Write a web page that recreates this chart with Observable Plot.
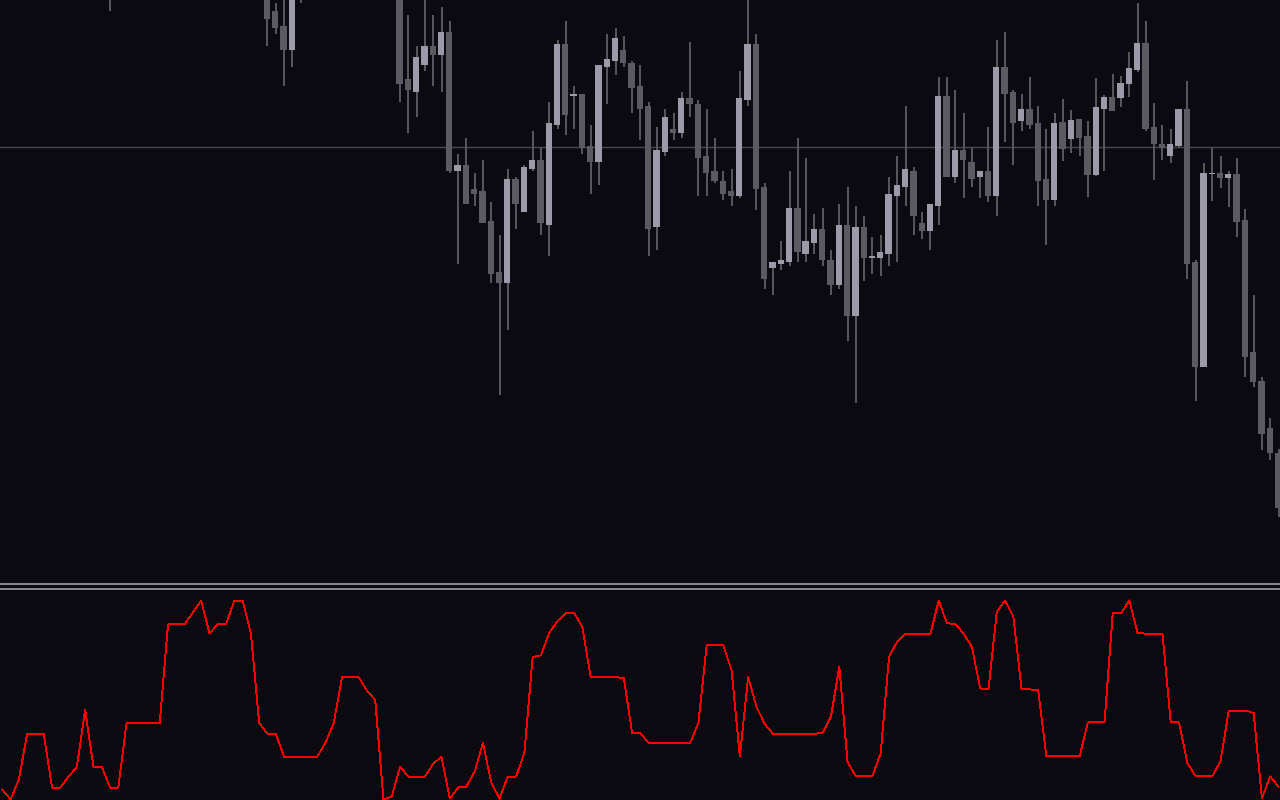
<!DOCTYPE html>
<html>
<head>
<meta charset="utf-8">
<script src="https://cdn.jsdelivr.net/npm/d3@7"></script>
<script src="https://cdn.jsdelivr.net/npm/@observablehq/plot@0.6"></script>
<style>
html, body { margin: 0; padding: 0; background: #0a0a10; }
#chart { width: 1280px; height: 800px; overflow: hidden; background: #0a0a10; }
#chart svg { display: block; max-width: none; }
.sep { height: 2px; background: #85858d; }
.gap { height: 3px; }
</style>
</head>
<body>
<div id="chart"></div>
<script>
// Bar positions (bar number from the left edge of the window) of the candles that show
const candleIndex = [13, 32, 33, 34, 35, 36,
  48, 49, 50, 51, 52, 53, 54, 55, 56, 57, 58, 59, 60, 61, 62, 63, 64, 65, 66, 67, 68, 69, 70, 71,
  72, 73, 74, 75, 76, 77, 78, 79, 80, 81, 82, 83, 84, 85, 86, 87, 88, 89, 90, 91, 92, 93, 94, 95,
  96, 97, 98, 99, 100, 101, 102, 103, 104, 105, 106, 107, 108, 109, 110, 111, 112, 113, 114, 115,
  116, 117, 118, 119, 120, 121, 122, 123, 124, 125, 126, 127, 128, 129, 130, 131, 132, 133, 134,
  135, 136, 137, 138, 139, 140, 141, 142, 143, 144, 145, 146, 147, 148, 149, 150, 151, 152, 153, 154];

// Prices (in points)
const open = [620, 615, 589, 574, 550, 620,
  610, 521, 508, 535, 554, 545, 568, 429, 435, 411, 409, 379, 328, 317, 421, 388, 431, 440, 375, 475, 556, 504, 506, 454,
  438, 533, 539, 550, 537, 514, 494, 373, 448, 471, 467, 502, 496, 444, 429, 419, 409, 404, 500, 556, 413, 332, 336, 338,
  392, 346, 357, 371, 340, 315, 375, 284, 373, 342, 342, 346, 404, 413, 429, 377, 369, 394, 504, 423,
  450, 438, 423, 429, 404, 533, 508, 479, 491, 477, 421, 400, 478, 461, 481, 464, 425, 491, 503,
  502, 516, 530, 557, 473, 456, 444, 454, 491, 338, 233, 426, 427, 422, 426, 380, 248, 219, 172, 147];

const high = [640, 625, 597, 605, 625, 640,
  620, 585, 554, 603, 585, 593, 579, 446, 462, 427, 440, 398, 365, 431, 423, 435, 469, 453, 498, 560, 579, 514, 506, 475,
  535, 566, 572, 564, 539, 535, 498, 473, 491, 487, 508, 558, 500, 491, 462, 429, 431, 529, 605, 566, 417, 338, 359, 429,
  462, 442, 386, 392, 350, 396, 413, 394, 384, 363, 365, 423, 444, 494, 433, 388, 396, 523, 523, 510,
  487, 452, 429, 473, 560, 568, 510, 506, 523, 494, 471, 487, 501, 490, 481, 479, 522, 505, 526,
  524, 548, 597, 579, 497, 475, 471, 491, 519, 340, 437, 452, 444, 429, 442, 391, 305, 223, 182, 151];

const low = [589, 554, 566, 514, 533, 597,
  498, 467, 483, 529, 514, 508, 427, 336, 396, 394, 377, 317, 205, 270, 371, 388, 429, 365, 344, 471, 465, 471, 446, 406,
  415, 496, 525, 533, 487, 460, 344, 350, 444, 460, 462, 483, 404, 404, 417, 400, 394, 402, 494, 390, 311, 305, 330, 334,
  338, 338, 346, 334, 305, 311, 259, 197, 319, 326, 324, 334, 338, 394, 365, 361, 350, 375, 423, 417,
  402, 413, 402, 398, 384, 458, 435, 469, 471, 394, 355, 394, 439, 447, 444, 403, 424, 429, 489,
  493, 503, 528, 469, 420, 440, 437, 452, 321, 199, 233, 399, 412, 393, 363, 223, 213, 150, 140, 83];

const close = [605, 581, 572, 550, 610, 610,
  516, 510, 543, 554, 545, 568, 429, 435, 396, 406, 377, 326, 317, 421, 396, 433, 440, 377, 477, 556, 485, 506, 452, 438,
  535, 541, 562, 537, 512, 491, 371, 450, 483, 467, 502, 496, 442, 427, 419, 406, 404, 502, 556, 411, 321, 338, 340, 392,
  348, 359, 371, 340, 315, 375, 284, 373, 342, 344, 348, 406, 415, 431, 384, 369, 396, 504, 423, 450,
  440, 421, 429, 404, 533, 506, 477, 491, 475, 419, 400, 477, 451, 480, 462, 425, 493, 503, 489,
  517, 532, 557, 471, 456, 452, 456, 491, 336, 233, 427, 427, 422, 426, 378, 243, 218, 166, 147, 92];

// Horizontal price level
const levelLine = [453];

// Oscillator (0-100), one value per bar, bars 0..154
const indicator = [
  5, 0, 10, 33, 33, 33, 6, 6, 11.5, 16.5,
  45, 16.5, 16.5, 6, 6, 38.5, 38.5, 38.5, 38.5, 38.5,
  88, 88, 88, 94, 100, 83.5, 88, 88, 100, 100,
  83.5, 38.5, 33, 33, 21.5, 21.5, 21.5, 21.5, 21.5, 28.5,
  38.5, 61.5, 61.5, 61.5, 54.7, 50, 0, 1.5, 16.5, 11.5,
  11.5, 11.5, 18, 21.5, 0.5, 6, 6.5, 14, 28.5, 8.5,
  0.5, 11.5, 11.5, 23.5, 71.5, 72.5, 83.7, 89.7, 93.7, 93.7,
  86.7, 61.5, 61.5, 61.5, 61.5, 61, 33.5, 33.5, 28.3, 28.3,
  28.3, 28.3, 28.3, 28.3, 38.5, 77.5, 77.5, 77.5, 65, 21.7,
  61.5, 46.7, 38, 33, 33, 33, 33, 33, 33, 33.5,
  41.7, 66.7, 18.7, 11.7, 11.7, 11.7, 23.3, 71.7, 79.5, 83.3,
  83.3, 83.3, 83.3, 100, 88.5, 88.3, 83.3, 76.7, 55.8, 55.3,
  94.2, 100, 92, 55.3, 55.3, 55, 21.7, 21.7, 21.7, 21.7,
  21.7, 38.7, 38.7, 38.7, 93.7, 93.7, 100, 83.7, 83.3, 83.3,
  83.3, 38.7, 38.7, 18.3, 11.7, 11.7, 11.7, 19.2, 44.7, 44.7,
  44.7, 43.5, 0.5, 11.7, 6.3];

(function () {
  const candles = candleIndex.map((i, k) => ({
    i, open: open[k], high: high[k], low: low[k], close: close[k],
    dir: close[k] >= open[k] ? "up" : "down"
  }));
  const osc = indicator.map((v, i) => ({i, v}));

  // visible bar window: ~8.29 px per bar, bar 0 sits just right of the left edge
  const common = {
    width: 1280,
    marginLeft: 0,
    marginRight: 0,
    style: {background: "transparent"},
    x: {domain: [-0.217, 154.24], axis: null}
  };

  const pricePlot = Plot.plot({
    ...common,
    height: 583,
    marginTop: 0,
    marginBottom: 0,
    y: {domain: [17, 600], axis: null},
    color: {domain: ["up", "down"], range: ["#9a9aa8", "#5a5a62"]},
    marks: [
      Plot.ruleY(levelLine, {stroke: "#45454e", strokeWidth: 1.6}),
      Plot.ruleX(candles, {x: "i", y1: "low", y2: "high", stroke: "#55555d", strokeWidth: 2, clip: true, shapeRendering: "crispEdges"}),
      Plot.rect(candles, {x1: d => d.i - 0.38, x2: d => d.i + 0.38, y1: "open", y2: "close", fill: "dir", clip: true, shapeRendering: "crispEdges"})
    ]
  });

  const oscPlot = Plot.plot({
    ...common,
    height: 210,
    marginTop: 10,
    marginBottom: 1,
    y: {domain: [0, 100], axis: null},
    marks: [
      Plot.line(osc, {x: "i", y: "v", stroke: "#ff0000", strokeWidth: 2, shapeRendering: "crispEdges"})
    ]
  });

  const chart = document.getElementById("chart");
  chart.appendChild(pricePlot);
  const s1 = document.createElement("div"); s1.className = "sep"; chart.appendChild(s1);
  const g = document.createElement("div"); g.className = "gap"; chart.appendChild(g);
  const s2 = document.createElement("div"); s2.className = "sep"; chart.appendChild(s2);
  chart.appendChild(oscPlot);
})();
</script>
</body>
</html>
